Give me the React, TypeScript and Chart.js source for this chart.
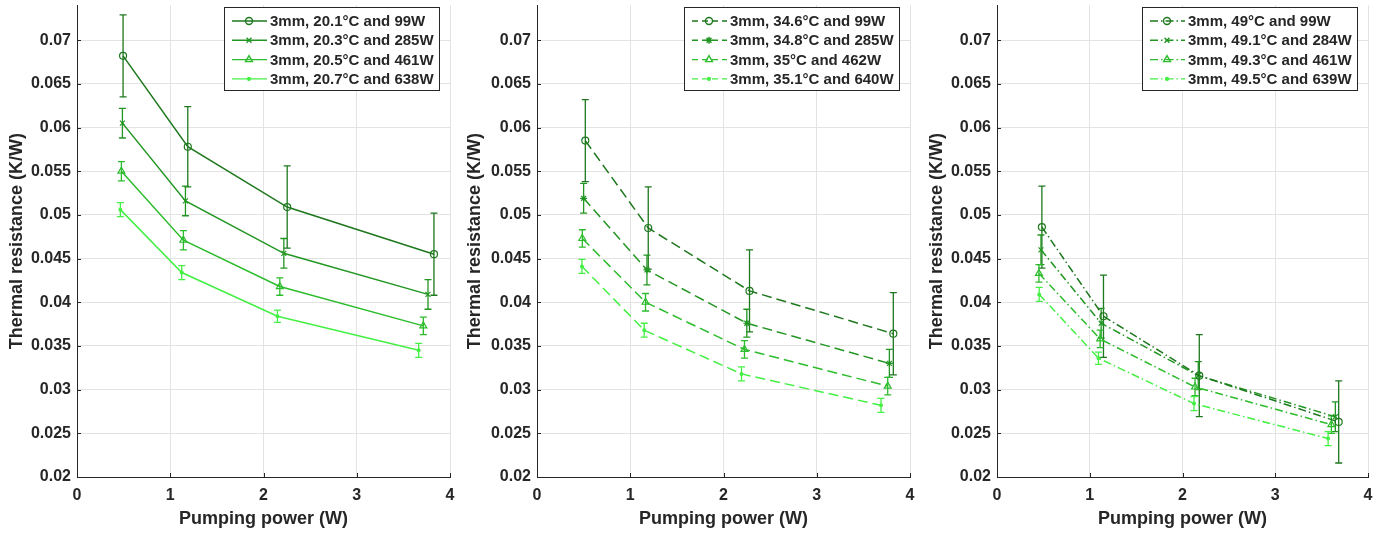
import React, { useEffect, useRef } from 'react';
import { Chart, registerables } from 'chart.js';
import { drawPoint } from 'chart.js/helpers';

Chart.register(...registerables);

const FONT = '"Liberation Sans", Arial, sans-serif';
const TEXT = '#262626';
const GRID = '#e3e3e3';
const COLORS = ['#1e781e', '#229622', '#2cbc2c', '#44f044'];

const xTicks = [0, 1, 2, 3, 4];
const xTickLabels = ['0', '1', '2', '3', '4'];
const yTicks = [0.02, 0.025, 0.03, 0.035, 0.04, 0.045, 0.05, 0.055, 0.06, 0.065, 0.07];
const yTickLabels = ['0.02', '0.025', '0.03', '0.035', '0.04', '0.045', '0.05', '0.055', '0.06', '0.065', '0.07'];

// Panel 1 (solid)
const p1Labels = ['3mm, 20.1°C and 99W', '3mm, 20.3°C and 285W', '3mm, 20.5°C and 461W', '3mm, 20.7°C and 638W'];
const p1X = [
  [0.494, 1.188, 2.254, 3.828],
  [0.487, 1.163, 2.218, 3.764],
  [0.476, 1.141, 2.175, 3.714],
  [0.465, 1.123, 2.15, 3.664],
];
const p1Y = [
  [0.0682, 0.0578, 0.0509, 0.0455],
  [0.0605, 0.0516, 0.0456, 0.0409],
  [0.055, 0.0471, 0.0418, 0.0373],
  [0.0506, 0.0434, 0.0384, 0.0345],
];
const p1Err = [
  [0.0047, 0.0046, 0.0047, 0.0047],
  [0.0017, 0.0017, 0.0017, 0.0017],
  [0.0011, 0.0011, 0.001, 0.001],
  [0.0008, 0.0008, 0.0007, 0.0008],
];

// Panel 2 (dashed)
const p2Labels = ['3mm, 34.6°C and 99W', '3mm, 34.8°C and 285W', '3mm, 35°C and 462W', '3mm, 35.1°C and 640W'];
const p2X = [
  [0.518, 1.193, 2.279, 3.821],
  [0.5, 1.179, 2.25, 3.779],
  [0.486, 1.164, 2.225, 3.761],
  [0.482, 1.15, 2.193, 3.689],
];
const p2Y = [
  [0.0585, 0.0485, 0.0413, 0.0364],
  [0.0519, 0.0437, 0.0376, 0.033],
  [0.0473, 0.04, 0.0346, 0.0304],
  [0.0441, 0.0368, 0.0318, 0.0282],
];
const p2Err = [
  [0.0047, 0.0047, 0.0047, 0.0047],
  [0.0017, 0.0017, 0.0016, 0.0016],
  [0.001, 0.001, 0.001, 0.001],
  [0.0008, 0.0008, 0.0008, 0.0008],
];

// Panel 3 (dash-dot)
const p3Labels = ['3mm, 49°C and 99W', '3mm, 49.1°C and 284W', '3mm, 49.3°C and 461W', '3mm, 49.5°C and 639W'];
const p3X = [
  [0.484, 1.148, 2.181, 3.684],
  [0.474, 1.123, 2.17, 3.648],
  [0.452, 1.112, 2.135, 3.605],
  [0.455, 1.094, 2.124, 3.57],
];
const p3Y = [
  [0.0486, 0.0384, 0.0316, 0.0263],
  [0.046, 0.0376, 0.0316, 0.0269],
  [0.0433, 0.0358, 0.0303, 0.026],
  [0.0409, 0.0336, 0.0284, 0.0244],
];
const p3Err = [
  [0.0047, 0.0047, 0.0047, 0.0047],
  [0.0017, 0.0017, 0.0016, 0.0017],
  [0.001, 0.001, 0.001, 0.001],
  [0.0008, 0.0007, 0.0008, 0.0008],
];

const markersA = ['circle', 'crossRot', 'triangle', 'circle'];
const markersB = ['circle', 'star', 'triangle', 'circle'];
const radii = [3.5, 3.5, 4, 1.4];

const PANELS = [
  { left: 0, width: 460, titlePad: 6, rightPad: 10, dash: [] as number[], markers: markersA, labels: p1Labels, xs: p1X, ys: p1Y, errs: p1Err },
  { left: 460, width: 460, titlePad: 4, rightPad: 10, dash: [10, 5], markers: markersB, labels: p2Labels, xs: p2X, ys: p2Y, errs: p2Err },
  { left: 920, width: 470, titlePad: 6, rightPad: 22, dash: [8, 3, 1.5, 3], markers: markersA, labels: p3Labels, xs: p3X, ys: p3Y, errs: p3Err },
];

const errorBarPlugin = {
  id: 'errbars',
  beforeDatasetsDraw(chart: any) {
    const { ctx, scales } = chart;
    const x = scales.x, y = scales.y;
    chart.data.datasets.forEach((ds: any) => {
      ctx.save();
      ctx.strokeStyle = ds.borderColor;
      ctx.lineWidth = 1.3;
      ctx.setLineDash([]);
      ds.data.forEach((p: any, i: number) => {
        const e = ds.errors[i];
        const px = x.getPixelForValue(p.x);
        const yt = y.getPixelForValue(p.y + e);
        const yb = y.getPixelForValue(p.y - e);
        ctx.beginPath();
        ctx.moveTo(px, yt); ctx.lineTo(px, yb);
        ctx.moveTo(px - 3.5, yt); ctx.lineTo(px + 3.5, yt);
        ctx.moveTo(px - 3.5, yb); ctx.lineTo(px + 3.5, yb);
        ctx.stroke();
      });
      ctx.restore();
    });
  },
};

const innerTicksPlugin = {
  id: 'innerTicks',
  afterDraw(chart: any) {
    const { ctx, chartArea, scales } = chart;
    ctx.save();
    ctx.strokeStyle = TEXT;
    ctx.lineWidth = 1;
    ctx.beginPath();
    xTicks.forEach((v) => {
      const px = Math.round(scales.x.getPixelForValue(v)) + 0.5;
      ctx.moveTo(px, chartArea.bottom); ctx.lineTo(px, chartArea.bottom - 4);
    });
    yTicks.forEach((v) => {
      const py = Math.round(scales.y.getPixelForValue(v)) + 0.5;
      ctx.moveTo(chartArea.left, py); ctx.lineTo(chartArea.left + 4, py);
    });
    ctx.stroke();
    ctx.restore();
  },
};

const boxLegendPlugin = {
  id: 'boxLegend',
  afterDraw(chart: any) {
    const { ctx, chartArea } = chart;
    const dsets = chart.data.datasets;
    ctx.save();
    ctx.font = `bold 15px ${FONT}`;
    const maxW = Math.max(...dsets.map((d: any) => ctx.measureText(d.label).width));
    const boxW = Math.round(46 + maxW + 5);
    const boxH = 83;
    const right = Math.round(chartArea.right - 11);
    const left = right - boxW;
    const top = Math.round(chartArea.top + 2);
    ctx.fillStyle = '#ffffff';
    ctx.fillRect(left, top, boxW, boxH);
    ctx.strokeStyle = TEXT;
    ctx.lineWidth = 1;
    ctx.strokeRect(left + 0.5, top + 0.5, boxW, boxH);
    dsets.forEach((d: any, i: number) => {
      const cy = top + 14 + i * 19.3;
      ctx.strokeStyle = d.borderColor;
      ctx.lineWidth = 1.4;
      ctx.setLineDash(d.borderDash && d.borderDash.length ? (d.borderDash[0] === 10 ? [6, 4] : d.borderDash) : []);
      ctx.beginPath();
      ctx.moveTo(left + 8, cy);
      ctx.lineTo(left + 43, cy);
      ctx.stroke();
      ctx.setLineDash([]);
      ctx.fillStyle = d.pointBackgroundColor;
      drawPoint(ctx, { pointStyle: d.pointStyle, radius: d.pointRadius, borderWidth: 1.2, rotation: 0 } as any, left + 25, cy);
      ctx.fillStyle = TEXT;
      ctx.textBaseline = 'middle';
      ctx.textAlign = 'left';
      ctx.fillText(d.label, left + 46, cy + 1);
    });
    ctx.restore();
  },
};

function Panel({ cfg }: { cfg: typeof PANELS[number] }) {
  const ref = useRef<HTMLCanvasElement | null>(null);
  useEffect(() => {
    if (!ref.current) return;
    const datasets = cfg.labels.map((label, si) => ({
      label,
      data: cfg.xs[si].map((x, i) => ({ x, y: cfg.ys[si][i] })),
      errors: cfg.errs[si],
      borderColor: COLORS[si],
      backgroundColor: COLORS[si],
      borderWidth: 1.5,
      borderDash: cfg.dash,
      pointStyle: cfg.markers[si],
      pointRadius: radii[si],
      pointBorderWidth: 1.2,
      pointBorderColor: COLORS[si],
      pointBackgroundColor: si === 3 ? COLORS[si] : 'rgba(0,0,0,0)',
      tension: 0,
      fill: false,
    }));
    const chart = new Chart(ref.current, {
      type: 'line',
      data: { datasets: datasets as any },
      options: {
        animation: false,
        responsive: false,
        events: [],
        layout: { padding: { left: 0, right: cfg.rightPad, top: 5, bottom: 0 } },
        plugins: { legend: { display: false }, tooltip: { enabled: false } },
        scales: {
          x: {
            type: 'linear',
            min: 0,
            max: 4,
            afterBuildTicks: (s: any) => { s.ticks = xTicks.map((v) => ({ value: v })); },
            afterFit: (s: any) => { s.height = 56; s.paddingLeft = 0; s.paddingRight = 0; },
            ticks: {
              color: TEXT,
              font: { family: FONT, size: 16, weight: 'bold' },
              padding: 9,
              maxRotation: 0,
              callback: (_v: any, i: number) => xTickLabels[i],
            },
            grid: { color: GRID, drawTicks: false, lineWidth: 1 },
            border: { color: TEXT, width: 1 },
            title: {
              display: true,
              text: 'Pumping power (W)',
              color: TEXT,
              font: { family: FONT, size: 18, weight: 'bold' },
              padding: { top: 0, bottom: 3 },
            },
          },
          y: {
            type: 'linear',
            min: 0.02,
            max: 0.074,
            afterBuildTicks: (s: any) => { s.ticks = yTicks.map((v) => ({ value: v })); },
            afterFit: (s: any) => { s.width = 77; s.paddingTop = 0; s.paddingBottom = 0; },
            ticks: {
              color: TEXT,
              font: { family: FONT, size: 16, weight: 'bold' },
              padding: 6,
              callback: (_v: any, i: number) => yTickLabels[i],
            },
            grid: { color: GRID, drawTicks: false, lineWidth: 1 },
            border: { color: TEXT, width: 1 },
            title: {
              display: true,
              text: 'Thermal resistance (K/W)',
              color: TEXT,
              font: { family: FONT, size: 18, weight: 'bold' },
              padding: { top: cfg.titlePad, bottom: 0 },
            },
          },
        },
      } as any,
      plugins: [errorBarPlugin, innerTicksPlugin, boxLegendPlugin],
    });
    return () => chart.destroy();
  }, [cfg]);
  return (
    <canvas
      ref={ref}
      width={cfg.width}
      height={533}
      style={{ position: 'absolute', left: cfg.left, top: 0, width: cfg.width, height: 533 }}
    />
  );
}

export default function App() {
  return (
    <div style={{ position: 'absolute', left: 0, top: 0, width: 1390, height: 533, background: '#ffffff' }}>
      {PANELS.map((p, i) => (
        <Panel key={i} cfg={p} />
      ))}
    </div>
  );
}
